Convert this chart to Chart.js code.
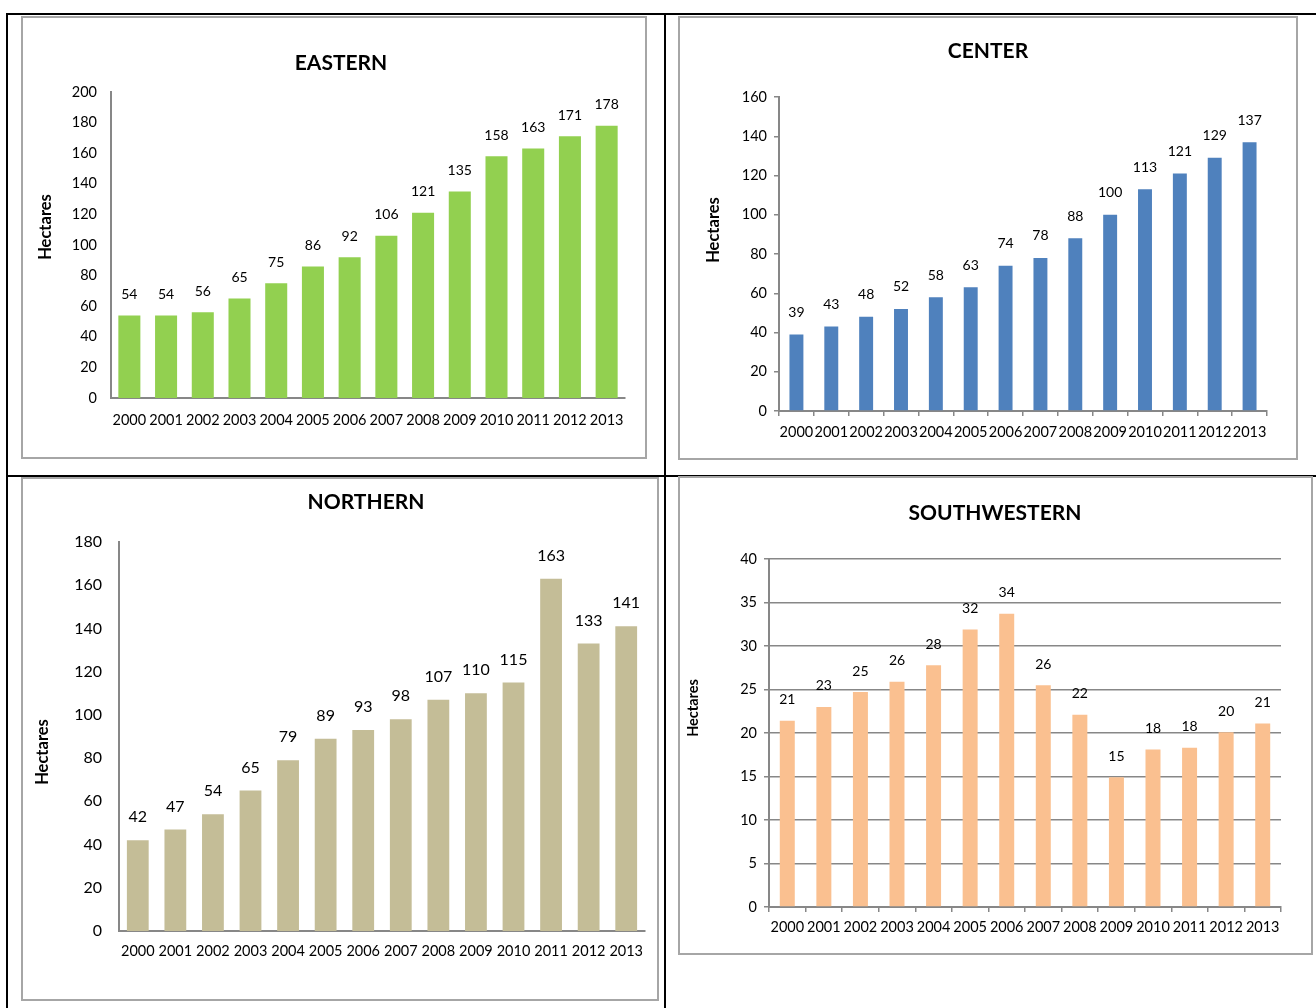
<!DOCTYPE html>
<html>
<head>
<meta charset="utf-8">
<script src="https://cdn.jsdelivr.net/npm/chart.js@4.4.0/dist/chart.umd.min.js"></script>
<style>
  body { margin: 0; background: #fff; width: 1316px; height: 1008px; overflow: hidden; position: relative; }
  .rule { position: absolute; background: #000; }
  .panel { position: absolute; border: 2px solid #a6a6a6; box-sizing: border-box; background: #fff; }
</style>
</head>
<body>
<!-- table rules -->
<div class="rule" style="left:6px;top:13px;width:1310px;height:2px"></div>
<div class="rule" style="left:6px;top:475px;width:1310px;height:2px"></div>
<div class="rule" style="left:6px;top:13px;width:2px;height:995px"></div>
<div class="rule" style="left:664px;top:13px;width:2px;height:995px"></div>

<div class="panel" style="left:21px;top:16px;width:626px;height:443px"><canvas id="eastern"></canvas></div>
<div class="panel" style="left:678px;top:16px;width:620px;height:444px"><canvas id="center"></canvas></div>
<div class="panel" style="left:21px;top:477px;width:638px;height:524px"><canvas id="northern"></canvas></div>
<div class="panel" style="left:678px;top:476px;width:635px;height:479px"><canvas id="southwestern"></canvas></div>

<script>
const years = ['2000', '2001', '2002', '2003', '2004', '2005', '2006',
               '2007', '2008', '2009', '2010', '2011', '2012', '2013'];

// hectares per year
const easternHa = [54, 54, 56, 65, 75, 86, 92, 106, 121, 135, 158, 163, 171, 178];
const centerHa = [39, 43, 48, 52, 58, 63, 74, 78, 88, 100, 113, 121, 129, 137];
const northernHa = [42, 47, 54, 65, 79, 89, 93, 98, 107, 110, 115, 163, 133, 141];
const southwesternHa = [21.4, 23.0, 24.7, 25.9, 27.8, 31.9, 33.7, 25.5, 22.1, 14.9, 18.1, 18.3, 20.1, 21.1];

// y axis: [max, step]
const easternAxis = [200, 20];
const centerAxis = [160, 20];
const northernAxis = [180, 20];
const southwesternAxis = [40, 5];

const FONT = 'Lato, "Open Sans", sans-serif';
const AXIS_GREY = '#878787';

// numbers above the bars
const valueLabels = {
  id: 'valueLabels',
  afterDatasetsDraw(chart, args, o) {
    const ctx = chart.ctx;
    const values = chart.data.datasets[0].data;
    ctx.save();
    ctx.font = o.size + 'px ' + FONT;
    ctx.fillStyle = '#000';
    ctx.textAlign = 'center';
    ctx.textBaseline = 'middle';
    chart.getDatasetMeta(0).data.forEach((bar, i) => {
      ctx.fillText(String(Math.round(values[i])), bar.x, bar.y - o.gap);
    });
    ctx.restore();
  }
};

// heading and rotated axis caption
const captions = {
  id: 'captions',
  afterDraw(chart, args, o) {
    const ctx = chart.ctx;
    ctx.save();
    ctx.fillStyle = '#000';
    ctx.textAlign = 'center';
    ctx.textBaseline = 'middle';
    ctx.font = 'bold ' + o.headSize + 'px ' + FONT;
    ctx.fillText(o.heading, o.headX, o.headY);
    ctx.translate(o.sideX, o.sideY);
    ctx.rotate(-Math.PI / 2);
    ctx.font = 'bold ' + o.sideSize + 'px ' + FONT;
    ctx.fillText('Hectares', 0, 0);
    ctx.restore();
  }
};

function drawPanel(id, heading, values, axis, colour, s) {
  new Chart(document.getElementById(id), {
    type: 'bar',
    data: {
      labels: years,
      datasets: [{
        data: values,
        backgroundColor: colour,
        categoryPercentage: 1,
        barPercentage: s.bar
      }]
    },
    plugins: [valueLabels, captions],
    options: {
      responsive: true,
      maintainAspectRatio: false,
      animation: false,
      layout: { padding: { top: s.top, right: s.right, left: 0, bottom: 0 } },
      plugins: {
        legend: { display: false },
        tooltip: { enabled: false },
        title: { display: false },
        valueLabels: { size: s.valueSize, gap: s.gap },
        captions: {
          heading: heading, headSize: 21, headX: s.head[0], headY: s.head[1],
          sideSize: s.sideSize, sideX: s.side[0], sideY: s.side[1]
        }
      },
      scales: {
        x: {
          grid: {
            display: s.xTicks, drawOnChartArea: false, drawTicks: s.xTicks,
            tickLength: 5, color: AXIS_GREY, lineWidth: 1.5, offset: true
          },
          border: { color: AXIS_GREY, width: 2 },
          ticks: {
            color: '#000', font: { family: FONT, size: 14.5 }, padding: s.xPad,
            autoSkip: false, maxRotation: 0, minRotation: 0
          },
          afterFit: sc => { sc.height = s.xHeight; }
        },
        y: {
          min: 0,
          max: axis[0],
          grid: {
            display: s.yTicks, drawOnChartArea: s.yGrid, drawTicks: s.yTicks,
            tickLength: 5, color: AXIS_GREY, lineWidth: 1.5
          },
          border: { color: AXIS_GREY, width: 2 },
          ticks: {
            stepSize: axis[1], color: '#000',
            font: { family: FONT, size: s.yTickSize }, padding: s.yPad
          },
          afterFit: sc => { sc.width = s.yWidth; }
        }
      }
    }
  });
}

drawPanel('eastern', 'EASTERN', easternHa, easternAxis, '#92D050', {
  bar: 0.6, top: 74, right: 20, xHeight: 59, yWidth: 88,
  xTicks: false, yTicks: false, yGrid: false, xPad: 14, yPad: 14, yTickSize: 14.5,
  valueSize: 14, gap: 21, head: [318, 45], side: [23, 209], sideSize: 16.5
});

drawPanel('center', 'CENTER', centerHa, centerAxis, '#4F81BD', {
  bar: 0.4, top: 79, right: 29, xHeight: 47, yWidth: 99,
  xTicks: true, yTicks: true, yGrid: false, xPad: 8, yPad: 7, yTickSize: 14.5,
  valueSize: 14, gap: 22, head: [308, 33], side: [34, 212], sideSize: 16.5
});

drawPanel('northern', 'NORTHERN', northernHa, northernAxis, '#C4BD97', {
  bar: 0.58, top: 63, right: 12, xHeight: 68, yWidth: 96,
  xTicks: false, yTicks: false, yGrid: false, xPad: 12, yPad: 17, yTickSize: 16,
  valueSize: 16, gap: 23, head: [343, 23], side: [20, 273], sideSize: 16.5
});

drawPanel('southwestern', 'SOUTHWESTERN', southwesternHa, southwesternAxis, '#FAC090', {
  bar: 0.41, top: 81, right: 30, xHeight: 46, yWidth: 89,
  xTicks: true, yTicks: true, yGrid: true, xPad: 7, yPad: 7, yTickSize: 14.5,
  valueSize: 14, gap: 21, head: [315, 35], side: [13, 230], sideSize: 14.5
});
</script>
</body>
</html>
